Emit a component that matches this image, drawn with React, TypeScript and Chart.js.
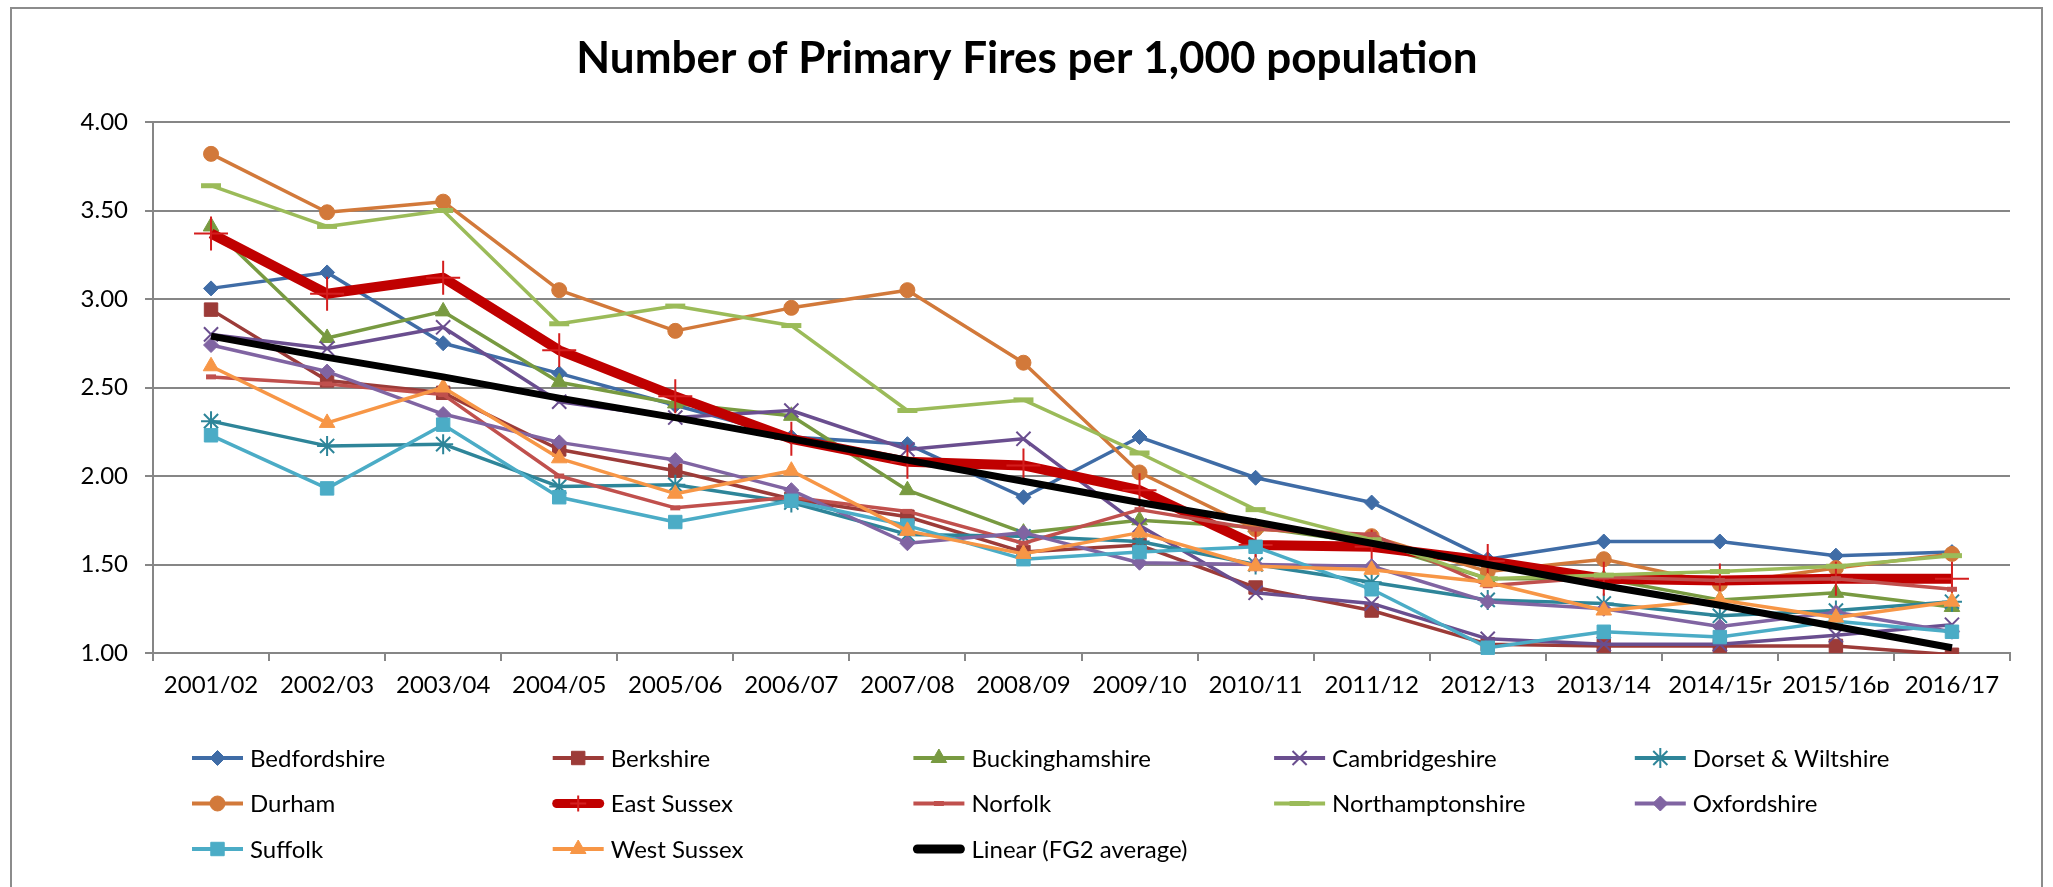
import React, { useEffect, useRef } from 'react';
import { Chart, registerables } from 'chart.js';
import { drawPoint } from 'chart.js/helpers';

Chart.register(...registerables);

const FONT = "Lato, 'Noto Sans', sans-serif";

const categories = ['2001/02', '2002/03', '2003/04', '2004/05', '2005/06', '2006/07', '2007/08', '2008/09', '2009/10', '2010/11', '2011/12', '2012/13', '2013/14', '2014/15r', '2015/16p', '2016/17'];

const bedfordshire = [3.06, 3.15, 2.75, 2.58, 2.40, 2.22, 2.18, 1.88, 2.22, 1.99, 1.85, 1.53, 1.63, 1.63, 1.55, 1.57];
const berkshire = [2.94, 2.54, 2.47, 2.15, 2.03, 1.87, 1.77, 1.57, 1.61, 1.37, 1.24, 1.05, 1.04, 1.04, 1.04, 0.99];
const buckinghamshire = [3.41, 2.78, 2.93, 2.53, 2.41, 2.34, 1.92, 1.68, 1.75, 1.71, 1.62, 1.42, 1.42, 1.30, 1.34, 1.26];
const cambridgeshire = [2.80, 2.72, 2.84, 2.42, 2.33, 2.37, 2.15, 2.21, 1.72, 1.34, 1.28, 1.08, 1.05, 1.05, 1.10, 1.16];
const dorsetWiltshire = [2.31, 2.17, 2.18, 1.94, 1.95, 1.85, 1.67, 1.66, 1.63, 1.50, 1.40, 1.30, 1.28, 1.21, 1.24, 1.29];
const durham = [3.82, 3.49, 3.55, 3.05, 2.82, 2.95, 3.05, 2.64, 2.02, 1.70, 1.66, 1.46, 1.53, 1.39, 1.48, 1.56];
const eastSussex = [3.37, 3.03, 3.12, 2.71, 2.45, 2.21, 2.08, 2.06, 1.92, 1.61, 1.60, 1.52, 1.42, 1.41, 1.42, 1.42];
const norfolk = [2.56, 2.52, 2.46, 2.00, 1.82, 1.88, 1.80, 1.62, 1.81, 1.70, 1.67, 1.38, 1.43, 1.41, 1.42, 1.36];
const northamptonshire = [3.64, 3.41, 3.50, 2.86, 2.96, 2.85, 2.37, 2.43, 2.13, 1.81, 1.64, 1.42, 1.44, 1.46, 1.49, 1.55];
const oxfordshire = [2.74, 2.59, 2.35, 2.19, 2.09, 1.92, 1.62, 1.68, 1.51, 1.50, 1.49, 1.29, 1.25, 1.15, 1.23, 1.12];
const suffolk = [2.23, 1.93, 2.29, 1.88, 1.74, 1.86, 1.72, 1.53, 1.57, 1.60, 1.36, 1.03, 1.12, 1.09, 1.18, 1.12];
const westSussex = [2.62, 2.30, 2.50, 2.10, 1.90, 2.03, 1.69, 1.56, 1.68, 1.49, 1.47, 1.40, 1.24, 1.30, 1.20, 1.29];
const linearFG2Average = [2.79, 2.67, 2.56, 2.44, 2.33, 2.21, 2.09, 1.97, 1.85, 1.74, 1.62, 1.50, 1.38, 1.27, 1.15, 1.03];

const yTickValues = [1.0, 1.5, 2.0, 2.5, 3.0, 3.5, 4.0];

const TITLE = 'Number of Primary Fires per 1,000 population';

type Style = {
  label: string;
  data: number[];
  color: string;
  width: number;
  point: string | false;
  radius: number;
  pointBorder?: number;
  pointColor?: string;
  legendRadius?: number;
  legendWidth?: number;
  round?: boolean;
  clip?: any;
};

const series: Style[] = [
  { label: 'Bedfordshire', data: bedfordshire, color: '#3F6CA6', width: 3.5, point: 'rectRot', radius: 7.5 },
  { label: 'Berkshire', data: berkshire, color: '#9C3B38', width: 3.5, point: 'rect', radius: 9.5, clip: 1 },
  { label: 'Buckinghamshire', data: buckinghamshire, color: '#789A41', width: 3.5, point: 'triangle', radius: 9 },
  { label: 'Cambridgeshire', data: cambridgeshire, color: '#6A4E8F', width: 3.5, point: 'crossRot', radius: 10, pointBorder: 2 },
  { label: 'Dorset & Wiltshire', data: dorsetWiltshire, color: '#2E8599', width: 3.5, point: 'star', radius: 10, pointBorder: 2 },
  { label: 'Durham', data: durham, color: '#D2793A', width: 3.5, point: 'circle', radius: 7.5 },
  { label: 'East Sussex', data: eastSussex, color: '#C00000', width: 10, point: 'cross', radius: 17, pointBorder: 2, pointColor: '#D41E1E', legendRadius: 8, legendWidth: 9, round: true },
  { label: 'Norfolk', data: norfolk, color: '#C0504D', width: 3.5, point: 'line', radius: 5, pointBorder: 5 },
  { label: 'Northamptonshire', data: northamptonshire, color: '#9BBB59', width: 3.5, point: 'line', radius: 10, pointBorder: 5 },
  { label: 'Oxfordshire', data: oxfordshire, color: '#8064A2', width: 3.5, point: 'rectRot', radius: 7.5 },
  { label: 'Suffolk', data: suffolk, color: '#4BACC6', width: 3.5, point: 'rect', radius: 9.5 },
  { label: 'West Sussex', data: westSussex, color: '#F79646', width: 3.5, point: 'triangle', radius: 9 },
  { label: 'Linear (FG2 average)', data: linearFG2Average, color: '#000000', width: 7, point: false, radius: 0, legendWidth: 9, round: true },
];

const titlePlugin = {
  id: 'excelTitle',
  afterDraw(chart: any) {
    const ctx = chart.ctx;
    ctx.save();
    ctx.font = `bold 44px ${FONT}`;
    ctx.fillStyle = '#000';
    ctx.textAlign = 'center';
    ctx.textBaseline = 'alphabetic';
    ctx.fillText(TITLE, 1027, 73);
    ctx.restore();
  },
};

const legendPlugin = {
  id: 'gridLegend',
  afterDraw(chart: any) {
    const ctx = chart.ctx;
    const colX0 = 192;
    const colStep = 360.7;
    const rowY0 = 758;
    const rowStep = 45.5;
    series.forEach((s, i) => {
      const col = i % 5;
      const row = Math.floor(i / 5);
      const x = colX0 + col * colStep;
      const y = rowY0 + row * rowStep;
      ctx.save();
      ctx.strokeStyle = s.color;
      ctx.lineWidth = s.legendWidth ?? 4;
      ctx.lineCap = s.round ? 'round' : 'butt';
      ctx.beginPath();
      ctx.moveTo(x + (s.round ? 4 : 0), y);
      ctx.lineTo(x + 51 - (s.round ? 4 : 0), y);
      ctx.stroke();
      if (s.point) {
        ctx.lineCap = 'butt';
        ctx.fillStyle = s.pointColor ?? s.color;
        ctx.strokeStyle = s.pointColor ?? s.color;
        ctx.lineWidth = s.pointBorder ?? 1;
        drawPoint(ctx, {
          pointStyle: s.point as any,
          rotation: 0,
          radius: s.legendRadius ?? s.radius,
          borderWidth: s.pointBorder ?? 1,
        } as any, x + 25.5, y);
      }
      ctx.font = `24px ${FONT}`;
      ctx.fillStyle = '#000';
      ctx.textAlign = 'left';
      ctx.textBaseline = 'middle';
      ctx.fillText(s.label, x + 58, y + 1);
      ctx.restore();
    });
  },
};

export default function App() {
  const canvasRef = useRef<HTMLCanvasElement | null>(null);

  useEffect(() => {
    const canvas = canvasRef.current;
    if (!canvas) return;
    const n = series.length;
    const chart = new Chart(canvas, {
      type: 'line',
      data: {
        labels: categories,
        datasets: series.map((s, i) => ({
          label: s.label,
          data: s.data,
          borderColor: s.color,
          backgroundColor: s.color,
          borderWidth: s.width,
          borderJoinStyle: 'round',
          tension: 0,
          fill: false,
          pointStyle: s.point as any,
          pointRadius: s.radius,
          pointHoverRadius: s.radius,
          pointBackgroundColor: s.pointColor ?? s.color,
          pointBorderColor: s.pointColor ?? s.color,
          pointBorderWidth: s.pointBorder ?? 1,
          order: n - i,
          clip: s.clip ?? false,
        })),
      },
      options: {
        responsive: false,
        animation: false,
        devicePixelRatio: 1,
        events: [],
        layout: { padding: { left: 0, right: 43, top: 122, bottom: 194 } },
        plugins: {
          legend: { display: false },
          title: { display: false },
          tooltip: { enabled: false },
        },
        scales: {
          x: {
            type: 'category',
            offset: true,
            grid: { drawOnChartArea: false, drawTicks: true, tickLength: 8, color: '#868686', lineWidth: 2, offset: true },
            border: { display: true, color: '#868686', width: 2 },
            ticks: { color: '#000', font: { family: FONT, size: 24 }, padding: 10, maxRotation: 0, autoSkip: false },
            afterFit: (s: any) => { s.height = 40; },
          },
          y: {
            min: 1,
            max: 4,
            afterBuildTicks: (s: any) => { s.ticks = yTickValues.map((v) => ({ value: v })); },
            ticks: {
              color: '#000',
              font: { family: FONT, size: 24 },
              padding: 17,
              callback: (v: any) => Number(v).toFixed(2),
            },
            grid: { color: '#868686', lineWidth: 2, tickLength: 8 },
            border: { display: true, color: '#868686', width: 2 },
            afterFit: (s: any) => { s.width = 153; },
          },
        },
      },
      plugins: [titlePlugin, legendPlugin],
    } as any);
    return () => chart.destroy();
  }, []);

  return (
    <div style={{ position: 'fixed', left: 0, top: 0, width: 2053, height: 887, background: '#fff', overflow: 'hidden' }}>
      <div style={{ position: 'absolute', left: 10, top: 7, width: 2029, height: 900, border: '2px solid #8C8C8C' }} />
      <canvas ref={canvasRef} width={2053} height={887} style={{ position: 'absolute', left: 0, top: 0, width: 2053, height: 887 }} />
    </div>
  );
}
